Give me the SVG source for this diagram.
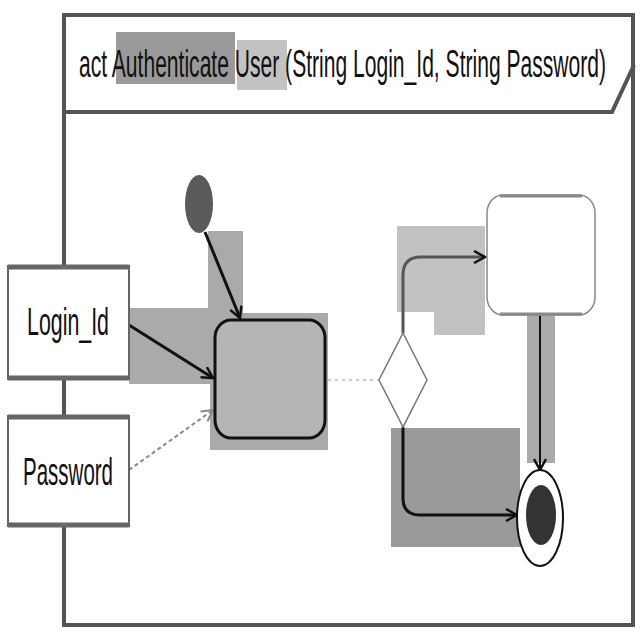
<svg xmlns="http://www.w3.org/2000/svg" width="640" height="640" viewBox="0 0 640 640">
<defs>
<style>
.lbl{font-family:"Liberation Sans",Arial,sans-serif;fill:#111}
.hl{stroke:none}
.edge{fill:none;stroke:#111;stroke-width:3}
.dash{fill:none;stroke:#888;stroke-width:2;stroke-dasharray:4 3}
</style>
<marker id="open" markerWidth="14" markerHeight="14" refX="12" refY="7" orient="auto" markerUnits="userSpaceOnUse">
<path d="M1,1 L12,7 L1,13" fill="none" stroke="#111" stroke-width="2.5"/>
</marker>
<marker id="openg" markerWidth="14" markerHeight="14" refX="12" refY="7" orient="auto" markerUnits="userSpaceOnUse">
<path d="M1,1 L12,7 L1,13" fill="none" stroke="#888" stroke-width="2"/>
</marker>
</defs>
<rect width="640" height="640" fill="#fff"/>
<g id="frame">
<rect x="64" y="15" width="569" height="610" fill="none" stroke="#555" stroke-width="4"/>
<path d="M64,112 L612,112 L634,65" fill="none" stroke="#555" stroke-width="4"/>
<rect class="hl" x="116" y="32" width="119" height="52" fill="#9a9a9a"/>
<rect class="hl" x="237" y="40" width="50" height="50" fill="#c2c2c2"/>
<text class="lbl" transform="translate(79,77) scale(1,1.9)" x="0" y="0" font-size="20" textLength="527" lengthAdjust="spacingAndGlyphs">act Authenticate User (String Login_Id, String Password)</text>
</g>
<g id="highlights">
<rect class="hl" x="208" y="231" width="35" height="82" fill="#aaa"/>
<rect class="hl" x="129" y="308" width="81" height="76" fill="#aaa"/>
<rect class="hl" x="210" y="313" width="118" height="137" fill="#aaa"/>
<path class="hl" d="M397,226 H485 V335 H434 V312 H397 Z" fill="#c2c2c2"/>
<rect class="hl" x="391" y="428" width="129" height="119" fill="#9a9a9a"/>
<rect class="hl" x="527" y="315" width="28" height="148" fill="#aaa"/>
</g>
<g id="connectors">
<path class="edge" d="M205,232 L240,318" marker-end="url(#open)"/>
<path class="edge" d="M129,325 L213,378" marker-end="url(#open)"/>
<path class="dash" d="M129,470 L213,410" marker-end="url(#openg)"/>
<path d="M328,380 L379,380" fill="none" stroke="#bbb" stroke-width="1.5" stroke-dasharray="3 4"/>
<path d="M403,333 V275 Q403,257 421,257 H485" fill="none" stroke="#555" stroke-width="3" marker-end="url(#open)"/>
<path class="edge" d="M403,427 V498 Q403,515 420,515 H517" marker-end="url(#open)"/>
<path d="M540,315 V470" fill="none" stroke="#111" stroke-width="2" marker-end="url(#open)"/>
</g>
<g id="login_id">
<rect x="8" y="266" width="121" height="113" fill="#fff" stroke="#666" stroke-width="2"/>
<path d="M8,267 H129 M8,378 H129" stroke="#666" stroke-width="5"/>
<text class="lbl" transform="translate(68,335) scale(1,1.75)" x="0" y="0" font-size="22" text-anchor="middle" textLength="82" lengthAdjust="spacingAndGlyphs">Login_Id</text>
</g>
<g id="password">
<rect x="8" y="416" width="121" height="110" fill="#fff" stroke="#666" stroke-width="2"/>
<path d="M8,417 H129 M8,525 H129" stroke="#666" stroke-width="5"/>
<text class="lbl" transform="translate(68,485) scale(1,1.85)" x="0" y="0" font-size="21" text-anchor="middle" textLength="90" lengthAdjust="spacingAndGlyphs">Password</text>
</g>
<g id="initial">
<ellipse cx="199" cy="204" rx="14" ry="29" fill="#5a5a5a"/>
</g>
<g id="action">
<rect x="215" y="320" width="110" height="118" rx="16" ry="18" fill="#b5b5b5" stroke="#111" stroke-width="3"/>
</g>
<g id="decision">
<path d="M403,333 L427,380 L403,427 L379,380 Z" fill="#fff" stroke="#777" stroke-width="1.5"/>
</g>
<g id="action2">
<rect x="487" y="195" width="108" height="120" rx="16" ry="18" fill="#fff" stroke="#888" stroke-width="1.5"/>
<path d="M500,196 H582 M500,314 H582" stroke="#888" stroke-width="3"/>
</g>
<g id="final">
<ellipse cx="540" cy="518" rx="23" ry="48" fill="#fff" stroke="#111" stroke-width="2"/>
<ellipse cx="541" cy="515" rx="15" ry="30" fill="#333"/>
</g>
</svg>
